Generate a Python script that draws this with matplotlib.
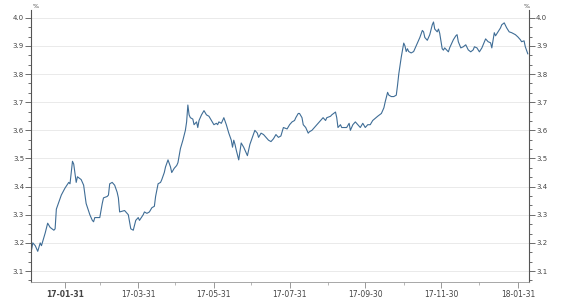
import pandas as pd
import matplotlib
matplotlib.use("Agg")
from matplotlib import pyplot as plt
import matplotlib.dates as mdates
from matplotlib.ticker import AutoMinorLocator, MultipleLocator

# day offsets from 2017-01-01 and yield values (%)
days = [
    2, 4, 6, 8, 9, 10, 11, 14, 16, 18, 21, 22, 23, 25, 27, 30, 33, 34, 36, 37,
    39, 40, 43, 45, 47, 50, 52, 53, 54, 56, 58, 60, 61, 64, 65, 66, 68, 70, 72, 73,
    74, 78, 79, 81, 83, 85, 87, 89, 90, 93, 94, 96, 98, 100, 102, 103, 105, 107, 108, 110,
    111, 113, 115, 116, 118, 120, 121, 123, 125, 127, 128, 129, 130, 131, 133, 134, 136, 137, 138, 140,
    142, 144, 146, 148, 150, 152, 153, 154, 156, 158, 160, 162, 164, 165, 166, 167, 168, 170, 171, 172,
    174, 175, 177, 179, 181, 183, 185, 186, 188, 190, 192, 194, 196, 198, 200, 202, 204, 206, 209, 211,
    213, 215, 216, 218, 219, 221, 222, 224, 226, 227, 229, 231, 233, 235, 238, 240, 241, 244, 245, 248,
    249, 250, 252, 253, 255, 257, 259, 260, 262, 264, 266, 268, 270, 272, 274, 276, 278, 282, 285, 287,
    288, 290, 291, 293, 295, 297, 298, 299, 300, 301, 303, 304, 305, 306, 307, 309, 311, 312, 314, 316,
    318, 319, 320, 322, 323, 324, 326, 327, 328, 330, 331, 332, 334, 335, 336, 339, 340, 343, 345, 346,
    347, 349, 351, 353, 355, 357, 359, 360, 362, 364, 366, 368, 369, 371, 373, 374, 376, 377, 379, 381,
    382, 384, 386, 388, 390, 393, 395, 397, 398, 400, 401, 403,
]
values = [
    3.15, 3.20, 3.19, 3.17, 3.185, 3.20, 3.19, 3.235, 3.27, 3.255, 3.245, 3.25, 3.32, 3.345, 3.37, 3.395, 3.415, 3.41, 3.49, 3.48,
    3.415, 3.435, 3.425, 3.405, 3.34, 3.30, 3.28, 3.275, 3.29, 3.29, 3.29, 3.34, 3.36, 3.365, 3.37, 3.41, 3.415, 3.405, 3.38, 3.36,
    3.31, 3.315, 3.31, 3.30, 3.25, 3.245, 3.28, 3.29, 3.28, 3.30, 3.31, 3.305, 3.31, 3.325, 3.33, 3.365, 3.41, 3.415, 3.425, 3.45,
    3.47, 3.495, 3.47, 3.45, 3.465, 3.475, 3.485, 3.535, 3.565, 3.60, 3.63, 3.69, 3.655, 3.645, 3.64, 3.62, 3.63, 3.61, 3.635, 3.655,
    3.67, 3.655, 3.65, 3.635, 3.62, 3.625, 3.62, 3.63, 3.625, 3.645, 3.62, 3.59, 3.565, 3.54, 3.565, 3.55, 3.53, 3.495, 3.525, 3.555,
    3.54, 3.53, 3.51, 3.55, 3.575, 3.60, 3.59, 3.575, 3.59, 3.585, 3.575, 3.565, 3.56, 3.57, 3.585, 3.575, 3.58, 3.61, 3.605, 3.62,
    3.63, 3.635, 3.645, 3.66, 3.66, 3.645, 3.62, 3.61, 3.59, 3.595, 3.60, 3.61, 3.62, 3.63, 3.645, 3.635, 3.645, 3.65, 3.655, 3.665,
    3.645, 3.61, 3.62, 3.61, 3.61, 3.61, 3.625, 3.60, 3.62, 3.63, 3.62, 3.61, 3.625, 3.61, 3.62, 3.62, 3.635, 3.65, 3.66, 3.68,
    3.70, 3.735, 3.725, 3.72, 3.72, 3.725, 3.76, 3.80, 3.83, 3.86, 3.91, 3.90, 3.88, 3.89, 3.88, 3.875, 3.88, 3.89, 3.91, 3.93,
    3.955, 3.95, 3.93, 3.92, 3.93, 3.94, 3.975, 3.985, 3.96, 3.95, 3.96, 3.945, 3.89, 3.885, 3.893, 3.879, 3.893, 3.922, 3.936, 3.94,
    3.915, 3.893, 3.897, 3.904, 3.886, 3.879, 3.886, 3.897, 3.893, 3.879, 3.893, 3.915, 3.925, 3.915, 3.911, 3.893, 3.947, 3.936, 3.95, 3.964,
    3.975, 3.982, 3.964, 3.95, 3.947, 3.94, 3.932, 3.922, 3.915, 3.918, 3.897, 3.872,
]
x_ticks = ["2017-01-31", "2017-03-31", "2017-05-31", "2017-07-31",
           "2017-09-30", "2017-11-30", "2018-01-31"]
y_ticks = [3.1, 3.2, 3.3, 3.4, 3.5, 3.6, 3.7, 3.8, 3.9, 4.0]

LINE = "#3f6d96"
AXIS = "#555555"
TEXT = "#444444"


def main():
    dates = pd.Timestamp("2017-01-01") + pd.to_timedelta(days, unit="D")

    fig = plt.figure(figsize=(5.64, 3.0), dpi=100)
    ax = fig.add_axes([0.055, 0.06, 0.883, 0.907])
    ax.plot(dates, values, color=LINE, lw=0.8)

    ax.set_xlim(dates[0] + pd.Timedelta(hours=14), dates[-1] + pd.Timedelta(days=1))
    ax.set_ylim(3.061, 4.028)

    ax.set_yticks(y_ticks)
    ax.yaxis.set_major_formatter(plt.FormatStrFormatter("%.1f"))
    ax.yaxis.set_minor_locator(AutoMinorLocator(3))
    ax.grid(axis="y", color="#e6e6e6", lw=0.6)
    ax.set_axisbelow(True)

    ax.set_xticks(pd.to_datetime(x_ticks))
    ax.xaxis.set_major_formatter(mdates.DateFormatter("%y-%m-%d"))
    ax.xaxis.set_minor_locator(mdates.MonthLocator(bymonth=[2, 4, 6, 8, 10, 12], bymonthday=-1))

    for side in ["left", "right"]:
        ax.spines[side].set_color(AXIS)
        ax.spines[side].set_linewidth(0.8)
    ax.spines["bottom"].set_color("#999999")
    ax.spines["bottom"].set_linewidth(0.6)
    ax.spines["top"].set_visible(False)

    ax.tick_params(axis="y", which="both", left=True, right=True,
                   labelleft=True, labelright=True, colors=AXIS,
                   labelcolor=TEXT, labelsize=5, pad=1, width=0.6)
    ax.tick_params(axis="y", which="major", length=4)
    ax.tick_params(axis="y", which="minor", length=2)
    ax.tick_params(axis="x", which="major", length=4, width=0.6, colors="#888888",
                   labelcolor=TEXT, labelsize=5.5, pad=2)
    ax.tick_params(axis="x", which="minor", length=2.5, width=0.6, colors="#aaaaaa")
    ax.get_xticklabels()[0].set_fontweight("bold")

    ax.annotate("%", xy=(0, 1), xycoords="axes fraction", xytext=(1, 1),
                textcoords="offset points", fontsize=4.5, color=TEXT, va="bottom")
    ax.annotate("%", xy=(1, 1), xycoords="axes fraction", xytext=(-4, 1),
                textcoords="offset points", fontsize=4.5, color=TEXT, va="bottom")

    fig.savefig("out.png", dpi=100, facecolor="white")


if __name__ == "__main__":
    main()
